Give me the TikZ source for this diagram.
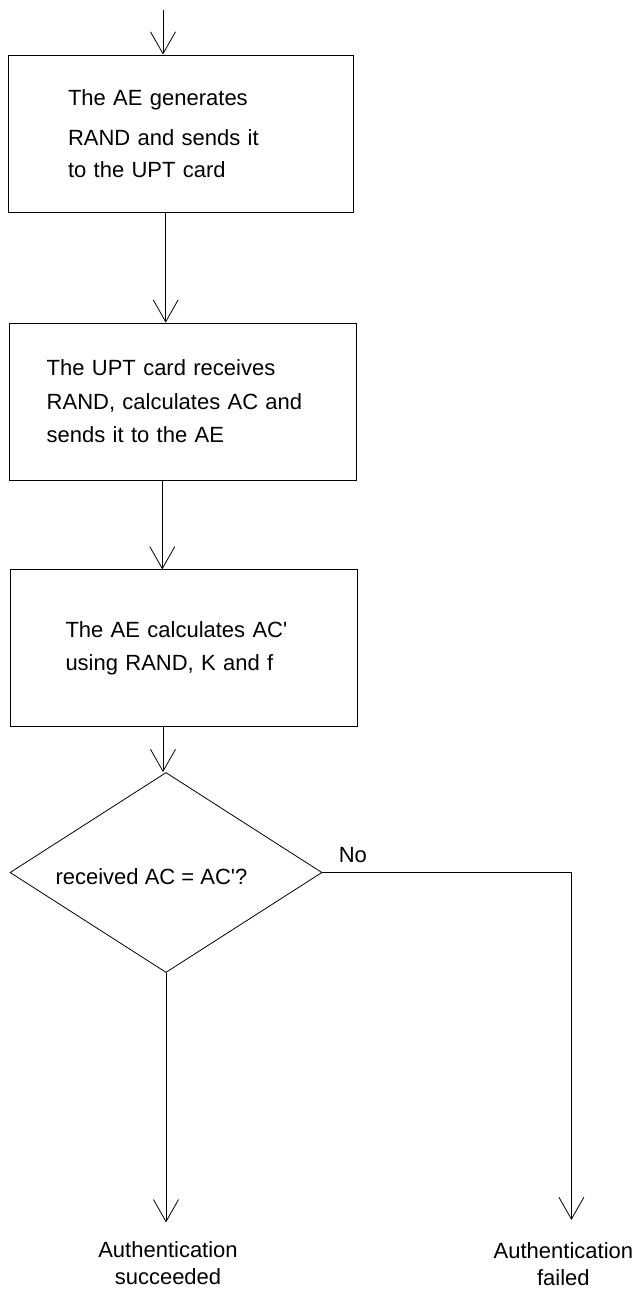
\documentclass[tikz,border=0pt]{standalone}
\usepackage{fontspec}
\setmainfont{Liberation Sans}
\usetikzlibrary{shapes, arrows.meta}

\begin{document}
\begin{tikzpicture}[x=1pt, y=-1pt, >={Straight Barb[length=22pt, width=25pt]}, node distance=268pt, line width=0.8pt, font=\fontsize{22}{33.4}\selectfont]
            \tikzstyle{process} = [draw, rectangle, align=left, inner sep=0pt, minimum width=347pt, minimum height=157pt]
            \tikzstyle{decision} = [draw, diamond, inner sep=0pt, minimum width=312pt, minimum height=200pt]
            \tikzstyle{outcome} = [align=center, inner sep=0pt, anchor=north, font=\fontsize{22}{27}\selectfont]

            \useasboundingbox (0,0) rectangle (636,1292);

            \coordinate (start) at (163,10);
            \node[process, text width=225pt, minimum width=345pt] (gen) at (180.5,133.5) {The AE generates\\[6pt] RAND and sends it\\[-1.5pt] to the UPT card};
            \node[process, text width=271.6pt, below of=gen, xshift=2pt] (reply) {The UPT card receives\\ RAND, calculates AC and\\ sends it to the AE};
            \node[process, text width=236pt, below of=reply, xshift=1pt, yshift=21.2pt] (calc) {The AE calculates AC\textquotesingle\\ using RAND, K and f};
            \node[decision, below of=calc, xshift=-17.5pt, yshift=43.8pt, label={[xshift=-14.5pt, yshift=-4.5pt]center:received AC = AC\textquotesingle?}] (check) {};
            \node[anchor=base west, inner sep=0pt] (no) at ([xshift=16pt, yshift=10pt]check.east) {No};
            \coordinate (turn) at ([xshift=249pt]check.east);
            \node[outcome] (succ) at ([xshift=2pt, yshift=-268.5pt]check.south) {Authentication\\ succeeded};
            \node[outcome] (fail) at ([xshift=-8pt, yshift=-369.5pt]turn) {Authentication\\ failed};

            \draw[->] (start) -- (start |- gen.north);
            \draw[->] ([xshift=-14.8pt]gen.south) -- ([xshift=-14.8pt]gen.south |- reply.north);
            \draw[->] ([xshift=-20.2pt]reply.south) -- ([xshift=-20.2pt]reply.south |- calc.north);
            \draw[->] ([xshift=-20.5pt]calc.south) -- ([xshift=-20.5pt]calc.south |- check.north);
            \draw[->, shorten >=19pt] (check.south) -- (check.south |- succ.north);
            \draw[->, shorten >=22pt] (check.east) -- (turn) -- (turn |- fail.north);
        \end{tikzpicture}
\end{document}
